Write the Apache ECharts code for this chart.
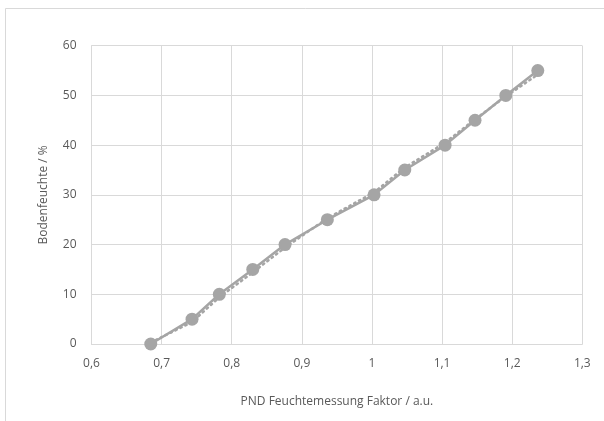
<!DOCTYPE html>
<html>
<head>
<meta charset="utf-8">
<script src="https://cdn.jsdelivr.net/npm/echarts@6/dist/echarts.min.js"></script>
<style>html,body{margin:0;padding:0;background:#fff}#c{width:604px;height:421px}</style>
</head>
<body>
<div id="c"></div>
<script>
var faktor = [0.6845, 0.7434, 0.7823, 0.830, 0.876, 0.9364, 1.003, 1.0468, 1.1043, 1.147, 1.1909, 1.2365];
var feuchte = [0, 5, 10, 15, 20, 25, 30, 35, 40, 45, 50, 55];
var trendX = [0.6845, 0.7434, 0.7823, 0.830, 0.876, 0.9364, 1.003, 1.0468, 1.1043, 1.147, 1.1909, 1.2365];
var trendY = [0.3, 4.4, 9.4, 14.4, 19.4, 25.3, 30.5, 35.5, 40.5, 45.2, 49.8, 54.2];
var xTicks = {min: 0.6, max: 1.3, interval: 0.1};
var yTicks = {min: 0, max: 60, interval: 10};

var mainData = faktor.map(function (x, i) { return [x, feuchte[i]]; });
var trendData = trendX.map(function (x, i) { return [x, trendY[i]]; });
var font = '"Open Sans", "Liberation Sans", sans-serif';
var chart = echarts.init(document.getElementById('c'), null, {renderer: 'canvas'});
chart.setOption({
  animation: false,
  backgroundColor: '#fff',
  graphic: [{
    type: 'rect', silent: true, z: -1,
    shape: {x: 5.5, y: 8.5, width: 700, height: 500},
    style: {fill: 'none', stroke: '#d9d9d9', lineWidth: 1}
  }],
  grid: {left: 91.5, right: 21.7, top: 45.7, bottom: 77, containLabel: false},
  xAxis: {
    type: 'value', min: xTicks.min, max: xTicks.max, interval: xTicks.interval,
    name: 'PND Feuchtemessung Faktor / a.u.', nameLocation: 'middle', nameGap: 52,
    nameTextStyle: {color: '#595959', fontSize: 12, fontFamily: font},
    axisLine: {show: true, lineStyle: {color: '#d9d9d9', width: 1}},
    axisTick: {show: false},
    splitLine: {show: true, lineStyle: {color: '#d9d9d9', width: 1}},
    axisLabel: {color: '#595959', fontSize: 12, fontFamily: font, margin: 14,
      formatter: function (v) { return (Math.round(v * 10) / 10).toString().replace('.', ','); }}
  },
  yAxis: {
    type: 'value', min: yTicks.min, max: yTicks.max, interval: yTicks.interval,
    name: 'Bodenfeuchte / %', nameLocation: 'middle', nameGap: 42, nameRotate: 90,
    nameTextStyle: {color: '#595959', fontSize: 12, fontFamily: font},
    axisLine: {show: true, lineStyle: {color: '#d9d9d9', width: 1}},
    axisTick: {show: false},
    splitLine: {show: true, lineStyle: {color: '#d9d9d9', width: 1}},
    axisLabel: {color: '#595959', fontSize: 12, fontFamily: font, margin: 15}
  },
  series: [{
    type: 'line', data: trendData, symbol: 'none', z: 2,
    lineStyle: {color: '#a5a5a5', width: 2.5, type: [1.5, 4], cap: 'round'}
  }, {
    type: 'line', data: mainData, symbol: 'circle', symbolSize: 13, z: 3,
    lineStyle: {color: '#a5a5a5', width: 2.5},
    itemStyle: {color: '#a5a5a5'}
  }]
});
</script>
</body>
</html>
